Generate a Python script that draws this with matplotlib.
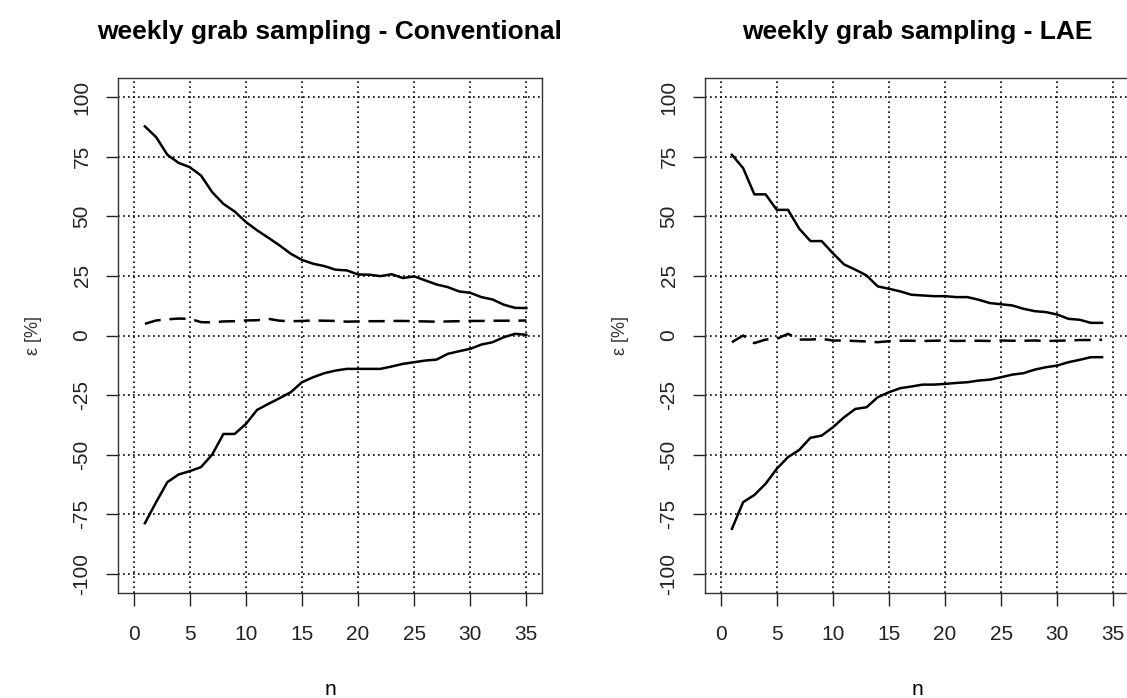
import numpy as np
import matplotlib
matplotlib.use("Agg")
import matplotlib.pyplot as plt

# relative error bounds vs. number of samples, conventional sampling
n_conv = np.arange(1, 36)
upper_conv = [87.7, 83.2, 75.8, 72.4, 70.6, 67.1, 60.1, 55.2, 52.0, 47.6,
              44.1, 41.0, 37.8, 34.3, 31.7, 30.1, 29.1, 27.6, 27.3, 25.6,
              25.5, 24.9, 25.7, 24.1, 24.8, 23.1, 21.4, 20.3, 18.5, 17.9,
              16.1, 15.1, 12.9, 11.6, 11.5]
mean_conv = [4.9, 6.3, 6.8, 7.1, 7.0, 5.6, 5.5, 5.9, 6.0, 6.3,
             6.4, 7.0, 6.2, 6.0, 6.1, 6.3, 6.2, 6.1, 5.8, 5.9,
             6.0, 6.0, 6.1, 6.1, 6.0, 5.9, 5.8, 5.9, 6.0, 6.1,
             6.1, 6.2, 6.2, 6.2, 6.3]
lower_conv = [-78.7, -69.9, -61.5, -58.3, -56.9, -55.2, -49.9, -41.3, -41.3, -37.1,
              -31.2, -28.7, -26.3, -23.8, -19.6, -17.5, -15.8, -14.7, -14.0, -14.0,
              -14.0, -14.0, -13.0, -11.9, -11.2, -10.5, -10.1, -7.7, -6.6, -5.6,
              -3.8, -2.8, -0.7, 0.7, 0.3]

# same for LAE
n_lae = np.arange(1, 35)
upper_lae = [75.8, 70.2, 59.2, 59.2, 52.7, 52.7, 44.8, 39.6, 39.6, 34.5,
             29.8, 27.6, 25.2, 20.6, 19.6, 18.5, 17.1, 16.8, 16.5, 16.5,
             16.1, 16.1, 15.0, 13.6, 13.1, 12.6, 11.2, 10.2, 9.8, 8.8,
             7.0, 6.6, 5.3, 5.3]
mean_lae = [-2.8, 0.0, -3.2, -1.7, -1.4, 0.7, -1.7, -1.7, -1.4, -2.1,
            -2.1, -2.3, -2.5, -2.8, -2.4, -2.2, -2.2, -2.3, -2.2, -2.1,
            -2.3, -2.2, -2.2, -2.3, -2.1, -2.2, -2.2, -2.1, -2.3, -2.2,
            -2.1, -1.9, -1.9, -1.8]
lower_lae = [-81.1, -69.9, -66.9, -62.2, -55.9, -51.0, -48.0, -42.9, -42.0, -38.5,
             -34.3, -30.8, -30.1, -25.9, -23.8, -22.1, -21.4, -20.6, -20.6, -20.3,
             -19.9, -19.6, -18.9, -18.5, -17.5, -16.4, -15.8, -14.3, -13.3, -12.6,
             -11.2, -10.2, -9.1, -9.1]

x_ticks = np.arange(0, 36, 5)
y_ticks = np.arange(-100, 101, 25)

plt.rcParams['font.family'] = ['Liberation Sans', 'DejaVu Sans']

fig = plt.figure(figsize=(11.27, 6.98), dpi=100)
ax1 = fig.add_axes([118 / 1127, 105 / 698, 424 / 1127, 515 / 698])
ax2 = fig.add_axes([705 / 1127, 105 / 698, 424 / 1127, 515 / 698])


def draw_panel(ax, n, upper, mean, lower, title):
    ax.plot(n, upper, color='black', lw=1.8)
    ax.plot(n, lower, color='black', lw=1.8)
    ax.plot(n, mean, color='black', lw=1.8, linestyle=(0, (6.5, 3.5)))
    ax.set_xlim(-1.4, 36.4)
    ax.set_ylim(-108, 108)
    ax.set_xticks(x_ticks)
    ax.set_yticks(y_ticks)
    ax.set_yticklabels([str(v) for v in y_ticks], rotation=90, va='center')
    ax.grid(True, color='black', linestyle=(0, (1, 2)), lw=1.2)
    ax.tick_params(direction='out', length=9, width=1, labelsize=15,
                   colors='#222222')
    ax.tick_params(axis='x', pad=14)
    ax.tick_params(axis='y', pad=10)
    for sp in ax.spines.values():
        sp.set_linewidth(1.0)
        sp.set_color('#333333')
    ax.set_title(title, fontsize=19, fontweight='bold', pad=28)
    ax.set_xlabel('n', fontsize=15, labelpad=26)
    ax.set_ylabel('ε [%]', fontsize=13, labelpad=22, color='#333333')


draw_panel(ax1, n_conv, upper_conv, mean_conv, lower_conv,
           'weekly grab sampling - Conventional')
draw_panel(ax2, n_lae, upper_lae, mean_lae, lower_lae,
           'weekly grab sampling - LAE')

fig.savefig('out.png', dpi=100)
